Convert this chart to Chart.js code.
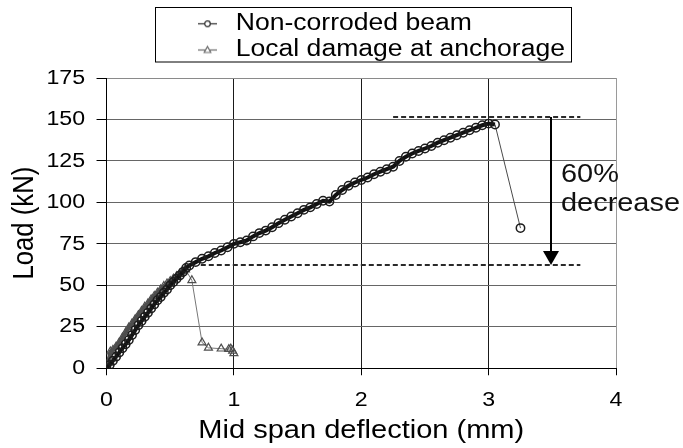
<!DOCTYPE html>
<html>
<head>
<meta charset="utf-8">
<script src="https://cdn.jsdelivr.net/npm/chart.js@4.4.1/dist/chart.umd.min.js"></script>
<style>
html,body{margin:0;padding:0;background:#ffffff;}
#wrap{width:683px;height:448px;}
</style>
</head>
<body>
<div id="wrap"><canvas id="c" width="683" height="448"></canvas></div>
<script>
// ---- data ----
const seriesNames = ['Non-corroded beam', 'Local damage at anchorage'];
const xTicks = [0, 1, 2, 3, 4];
const yTicks = [0, 25, 50, 75, 100, 125, 150, 175];

const beamX = [0,0.025,0.05,0.075,0.1,0.125,0.15,0.175,0.2,0.225,0.25,0.275,0.3,0.325,0.35,0.375,0.4,0.425,0.45,0.475,0.5,0.525,0.55,0.575,0.6,0.625,0.65,
  0.7,0.75,0.8,0.85,0.9,0.95,1.0,1.05,1.1,1.15,1.2,1.25,1.3,1.35,1.4,1.45,1.5,1.55,1.6,1.65,1.7,1.75,1.8,1.85,1.9,1.95,
  2.0,2.05,2.1,2.15,2.2,2.25,2.3,2.35,2.4,2.45,2.5,2.55,2.6,2.65,2.7,2.75,2.8,2.85,2.9,2.95,3.0,3.05,3.25];
const beamY = [0,2,4.5,7,9.5,12,14.5,17,20,23,26,28.5,31,33.5,36,38.5,41,43,45.5,47.5,50,52,54,56,58,60.5,62,
  64,66,67.5,69.5,71,73,75,76,77,79.5,81.5,83,85,87.5,89.5,91.5,93.5,95.5,97,99,101,100.5,104.5,107.5,110,112,
  113.5,115,117,118.5,120,121.5,125,127.5,129.5,131,132.5,134,136,137.5,139,140.5,142,143.5,145,146.5,147.5,147,84.5];

const damageX = [0,0.015,0.03,0.05,0.075,0.1,0.125,0.15,0.175,0.2,0.225,0.25,0.275,0.3,0.325,0.35,0.375,0.4,0.425,0.45,0.475,0.5,0.525,0.55,0.575,0.6,0.62,
  0.67,0.75,0.8,0.9,0.96,0.975,0.99,1.0];
const damageY = [0,4,10,11,13,15.5,18.5,21.5,24.5,27,29.5,32,34.5,37,39,41.5,43.5,45.5,47.5,49.5,51,52.5,54,55.5,57,58.5,59.5,
  53,15.5,12.3,11.8,11.5,11.8,10.5,9];

// annotation values (load levels of the dashed lines, their x extent, arrow position)
const refLevels = [151.5, 62.3];
const refStarts = [2.25, 0.74];
const refEnd = 3.72;
const arrowX = 3.49;
const noteLines = ['60%', 'decrease'];

// ---- text is slightly wide in the reference: stretch glyphs horizontally about their anchor ----
const TEXT_STRETCH = 1.13;
const canvas = document.getElementById('c');
const ctx2d = canvas.getContext('2d');
const nativeFill = CanvasRenderingContext2D.prototype.fillText;
ctx2d.fillText = function (text, x, y, maxWidth) {
  const m = this.getTransform();
  const dx = m.a * x + m.c * y + m.e;
  const dy = m.b * x + m.d * y + m.f;
  this.save();
  this.setTransform(1, 0, 0, 1, 0, 0);
  this.translate(dx, dy);
  this.scale(TEXT_STRETCH, 1);
  this.translate(-dx, -dy);
  this.transform(m.a, m.b, m.c, m.d, m.e, m.f);
  if (maxWidth === undefined || maxWidth === null) nativeFill.call(this, text, x, y);
  else nativeFill.call(this, text, x, y, maxWidth);
  this.restore();
};

function makeIcon(color, shape) {
  const c = document.createElement('canvas');
  c.width = 26; c.height = 12;
  const g = c.getContext('2d');
  g.strokeStyle = color; g.lineWidth = 1.2;
  g.beginPath(); g.moveTo(0, 6.5); g.lineTo(19, 6.5); g.stroke();
  g.fillStyle = '#ffffff';
  g.beginPath();
  if (shape === 'circle') {
    g.arc(9.5, 6.5, 2.8, 0, Math.PI * 2);
  } else {
    g.moveTo(9.5, 3); g.lineTo(12.8, 9); g.lineTo(6.2, 9); g.closePath();
  }
  g.fill(); g.stroke();
  return c;
}
const legendIcons = [makeIcon('#2a2a2a', 'circle'), makeIcon('#6a6a6a', 'triangle')];

Chart.defaults.font.family = '"Liberation Sans", Arial, Helvetica, sans-serif';
Chart.defaults.color = '#000000';

const extras = {
  id: 'extras',
  afterLayout(chart) {
    const lg = chart.legend;
    if (!lg) return;
    lg.left = 195.3; lg.right = 572; lg.width = lg.right - lg.left;
    const h = lg.height;
    lg.top = 8.85; lg.bottom = lg.top + h;
  },
  afterDatasetsDraw(chart) {
    const {ctx, scales: {x, y}} = chart;
    ctx.save();
    ctx.strokeStyle = '#2a2a2a';
    ctx.lineWidth = 2;
    ctx.setLineDash([5, 3]);
    refLevels.forEach((lv, i) => {
      const py = Math.round(y.getPixelForValue(lv));
      ctx.beginPath();
      ctx.moveTo(x.getPixelForValue(refStarts[i]), py);
      ctx.lineTo(x.getPixelForValue(refEnd), py);
      ctx.stroke();
    });
    ctx.setLineDash([]);
    const ax = Math.round(x.getPixelForValue(arrowX));
    const y1 = y.getPixelForValue(refLevels[0]);
    const y2 = y.getPixelForValue(refLevels[1]);
    ctx.strokeStyle = '#000000';
    ctx.fillStyle = '#000000';
    ctx.lineWidth = 2;
    ctx.beginPath(); ctx.moveTo(ax, y1); ctx.lineTo(ax, y2 - 12); ctx.stroke();
    ctx.beginPath();
    ctx.moveTo(ax, y2); ctx.lineTo(ax - 8, y2 - 14); ctx.lineTo(ax + 8, y2 - 14); ctx.closePath();
    ctx.fill();
    ctx.font = '25.6px "Liberation Sans", Arial, sans-serif';
    ctx.fillStyle = '#111111';
    ctx.textAlign = 'left';
    ctx.textBaseline = 'alphabetic';
    ctx.fillText(noteLines[0], ax + 10, y1 + 65);
    ctx.fillText(noteLines[1], ax + 10, y1 + 94);
    ctx.restore();
  },
  afterDraw(chart) {
    const lg = chart.legend;
    if (!lg) return;
    const ctx = chart.ctx;
    ctx.save();
    ctx.strokeStyle = '#000000';
    ctx.lineWidth = 1;
    ctx.strokeRect(155.5, 7.5, 416, 54.5);
    ctx.restore();
  }
};

const isDrop = c => (c.p0.parsed.y - c.p1.parsed.y > 15);

new Chart(canvas, {
  type: 'line',
  data: {
    datasets: [
      {
        label: seriesNames[0],
        data: beamX.map((v, i) => ({x: v, y: beamY[i]})),
        borderColor: '#111111',
        borderWidth: 4,
        segment: {
          borderWidth: c => isDrop(c) ? 1 : undefined,
          borderColor: c => isDrop(c) ? '#4a4a4a' : undefined
        },
        pointStyle: 'circle',
        pointRadius: 4.2,
        pointBorderWidth: 1.5,
        pointBorderColor: '#1c1c1c',
        pointBackgroundColor: 'rgba(255,255,255,0)',
        tension: 0
      },
      {
        label: seriesNames[1],
        data: damageX.map((v, i) => ({x: v, y: damageY[i]})),
        borderColor: '#4e4e4e',
        borderWidth: 4,
        segment: {
          borderWidth: c => (c.p0.parsed.x >= 0.62) ? 1 : undefined,
          borderColor: c => (c.p0.parsed.x >= 0.62) ? '#777777' : undefined
        },
        pointStyle: 'triangle',
        pointRadius: 4.6,
        pointBorderWidth: 1.2,
        pointBorderColor: '#4f4f4f',
        pointBackgroundColor: 'rgba(255,255,255,0)',
        tension: 0
      }
    ]
  },
  options: {
    responsive: false,
    animation: false,
    devicePixelRatio: 1,
    layout: {padding: {left: 0, right: 67, top: 15.6, bottom: 0}},
    plugins: {
      tooltip: {enabled: false},
      legend: {
        display: true,
        position: 'top',
        align: 'start',
        fullSize: false,
        labels: {
          usePointStyle: true,
          pointStyleWidth: 26,
          padding: 2.7,
          color: '#000000',
          font: {size: 23.5},
          generateLabels(chart) {
            const items = Chart.defaults.plugins.legend.labels.generateLabels(chart);
            items.forEach((it, i) => { it.pointStyle = legendIcons[i]; it.lineWidth = 0; });
            return items;
          }
        }
      }
    },
    scales: {
      x: {
        type: 'linear',
        min: xTicks[0],
        max: xTicks[xTicks.length - 1],
        afterBuildTicks(axis) { axis.ticks = xTicks.map(v => ({value: v})); },
        ticks: {font: {size: 20.5}, color: '#000000', padding: 13.2},
        grid: {
          color: c => (c.tick && c.tick.value === 4) ? '#9a9a9a' : '#1a1a1a',
          tickColor: '#000000',
          tickLength: 7,
          lineWidth: 1
        },
        border: {color: '#000000', width: 1},
        title: {display: true, text: 'Mid span deflection (mm)', color: '#000000', font: {size: 25.7}, padding: {top: -10.6, bottom: 1.5}}
      },
      y: {
        type: 'linear',
        min: yTicks[0],
        max: yTicks[yTicks.length - 1],
        afterBuildTicks(axis) { axis.ticks = yTicks.map(v => ({value: v})); },
        ticks: {font: {size: 20.5}, color: '#000000', padding: 11.5},
        grid: {
          color: c => (c.tick && c.tick.value === 175) ? '#8a8a8a' : '#666666',
          tickColor: '#000000',
          tickLength: 10,
          lineWidth: 1
        },
        border: {color: '#000000', width: 1},
        title: {display: true, text: 'Load (kN)', color: '#000000', font: {size: 25.7}, padding: {top: 10, bottom: -1.5}}
      }
    }
  },
  plugins: [extras]
});
</script>
</body>
</html>
